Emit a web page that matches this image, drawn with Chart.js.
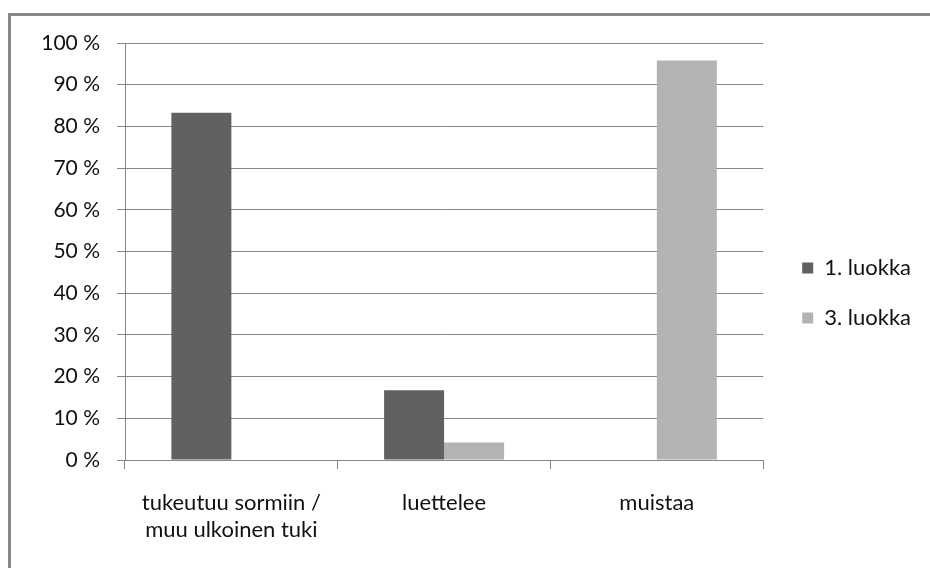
<!DOCTYPE html>
<html>
<head>
<meta charset="utf-8">
<script src="https://cdn.jsdelivr.net/npm/chart.js@4/dist/chart.umd.min.js"></script>
<style>
  html, body { margin: 0; padding: 0; background: #fff; }
  body { width: 930px; height: 568px; position: relative; overflow: hidden; }
  #frame { position: absolute; left: 8px; top: 13px; width: 940px; height: 580px;
           border-left: 3px solid #878787; border-top: 3px solid #878787; box-sizing: border-box; }
  #wrap { position: absolute; left: 0; top: 0; width: 930px; height: 568px; }
</style>
</head>
<body>
<div id="frame"></div>
<div id="wrap"><canvas id="c"></canvas></div>
<script>
// Categories and shares (%) per school year
const categories = [["tukeutuu sormiin /", "muu ulkoinen tuki"], "luettelee", "muistaa"];
const seriesNames = ["1. luokka", "3. luokka"];
const grade1 = [83.3, 16.7, 0];
const grade3 = [0, 4.2, 95.8];
const yTicks = [0, 10, 20, 30, 40, 50, 60, 70, 80, 90, 100];

const family = "Lato, 'Open Sans', sans-serif";
const tickFont = { family: family, size: 21 };
const labelFont = { family: family, size: 22 };
const axisGray = '#868686';

new Chart(document.getElementById('c'), {
  type: 'bar',
  data: {
    labels: categories,
    datasets: [
      { label: seriesNames[0], data: grade1, backgroundColor: '#616161' },
      { label: seriesNames[1], data: grade3, backgroundColor: '#b3b3b3' }
    ]
  },
  options: {
    responsive: true,
    maintainAspectRatio: false,
    animation: false,
    devicePixelRatio: 1,
    layout: { padding: { left: 20, top: 43, right: 9, bottom: 25 } },
    datasets: { bar: { categoryPercentage: 0.564, barPercentage: 1.0 } },
    plugins: {
      tooltip: { enabled: false },
      legend: {
        position: 'right',
        align: 'center',
        labels: { font: labelFont, color: '#111', boxWidth: 11, boxHeight: 11, padding: 28 }
      }
    },
    scales: {
      x: {
        grid: { offset: true, drawOnChartArea: false, color: axisGray, tickLength: 9 },
        border: { color: axisGray },
        ticks: { font: labelFont, color: '#111', padding: 21, maxRotation: 0 },
        afterFit(s) { s.height = 83; }
      },
      y: {
        min: 0, max: 100,
        afterBuildTicks(s) { s.ticks = yTicks.map(v => ({ value: v })); },
        grid: { color: axisGray, tickLength: 8 },
        border: { color: axisGray },
        ticks: { font: tickFont, color: '#111', padding: 17, callback: v => v + ' %' },
        afterFit(s) { s.width = 105; }
      },
      gap: {
        position: 'right',
        display: true,
        grid: { display: false },
        border: { display: false },
        ticks: { display: false },
        afterFit(s) { s.width = 11; }
      }
    }
  }
});
</script>
</body>
</html>
